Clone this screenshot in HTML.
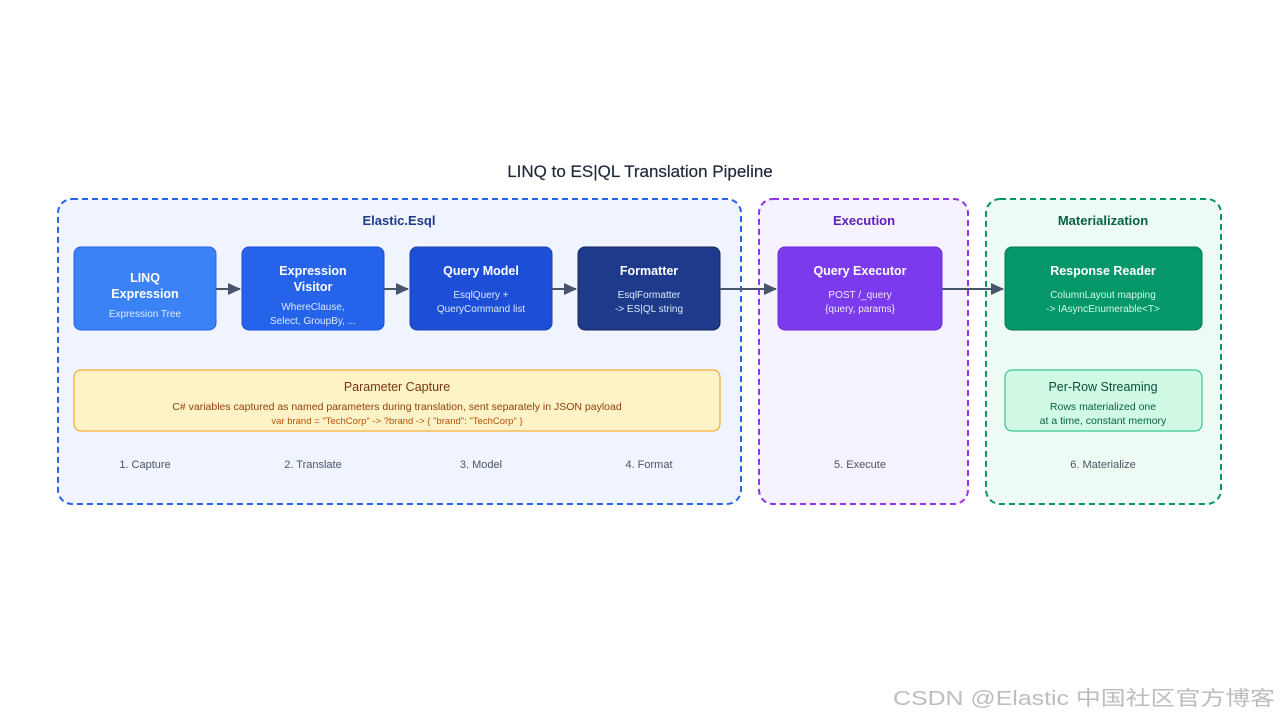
<!DOCTYPE html>
<html><head><meta charset="utf-8"><style>
html,body{margin:0;padding:0;background:#fff;width:1280px;height:720px;overflow:hidden}
svg{display:block}
text{font-family:"Liberation Sans","Noto Sans CJK SC",sans-serif}
</style></head><body>
<svg width="1280" height="720" viewBox="0 0 1280 720" xmlns="http://www.w3.org/2000/svg">
<defs>
<marker id="ah" markerWidth="14" markerHeight="14" refX="12" refY="6" orient="auto" markerUnits="userSpaceOnUse">
<path d="M0,0 L13,6 L0,12 z" fill="#475569"/></marker>
</defs>
<text x="640" y="177" text-anchor="middle" font-size="17" fill="#1f2937" stroke="#1f2937" stroke-width="0.2">LINQ to ES|QL Translation Pipeline</text>

<rect x="58" y="199" width="683" height="305" rx="14" fill="#eff4ff" stroke="#2563eb" stroke-width="2" stroke-dasharray="6,4"/>
<rect x="759" y="199" width="209" height="305" rx="14" fill="#f7f2ff" stroke="#9333ea" stroke-width="2" stroke-dasharray="6,4"/>
<rect x="986" y="199" width="235" height="305" rx="14" fill="#eefbf5" stroke="#059669" stroke-width="2" stroke-dasharray="6,4"/>

<text x="399" y="225" text-anchor="middle" font-size="13" font-weight="bold" fill="#1e3a8a">Elastic.Esql</text>
<text x="864" y="225" text-anchor="middle" font-size="13" font-weight="bold" fill="#5b21b6">Execution</text>
<text x="1103" y="225" text-anchor="middle" font-size="13" font-weight="bold" fill="#065f46">Materialization</text>

<rect x="74" y="247" width="142" height="83" rx="7" fill="#3b82f6" stroke="#2563eb"/>
<text x="145" y="282" text-anchor="middle" font-size="12.5" font-weight="bold" fill="#fff">LINQ</text>
<text x="145" y="298" text-anchor="middle" font-size="12.5" font-weight="bold" fill="#fff">Expression</text>
<text x="145" y="317" text-anchor="middle" font-size="10" fill="#dbeafe">Expression Tree</text>

<rect x="242" y="247" width="142" height="83" rx="7" fill="#2563eb" stroke="#1d4ed8"/>
<text x="313" y="275" text-anchor="middle" font-size="12.5" font-weight="bold" fill="#fff">Expression</text>
<text x="313" y="291" text-anchor="middle" font-size="12.5" font-weight="bold" fill="#fff">Visitor</text>
<text x="313" y="310" text-anchor="middle" font-size="10" fill="#dbeafe">WhereClause,</text>
<text x="313" y="324" text-anchor="middle" font-size="10" fill="#dbeafe">Select, GroupBy, ...</text>

<rect x="410" y="247" width="142" height="83" rx="7" fill="#1d4ed8" stroke="#1e40af"/>
<text x="481" y="275" text-anchor="middle" font-size="12.5" font-weight="bold" fill="#fff">Query Model</text>
<text x="481" y="298" text-anchor="middle" font-size="10" fill="#dbeafe">EsqlQuery +</text>
<text x="481" y="312" text-anchor="middle" font-size="10" fill="#dbeafe">QueryCommand list</text>

<rect x="578" y="247" width="142" height="83" rx="7" fill="#1e3a8a" stroke="#172554"/>
<text x="649" y="275" text-anchor="middle" font-size="12.5" font-weight="bold" fill="#fff">Formatter</text>
<text x="649" y="298" text-anchor="middle" font-size="10" fill="#dbeafe">EsqlFormatter</text>
<text x="649" y="312" text-anchor="middle" font-size="10" fill="#dbeafe">-&gt; ES|QL string</text>

<rect x="778" y="247" width="164" height="83" rx="7" fill="#7c3aed" stroke="#6d28d9"/>
<text x="860" y="275" text-anchor="middle" font-size="12.5" font-weight="bold" fill="#fff">Query Executor</text>
<text x="860" y="298" text-anchor="middle" font-size="10" fill="#ede9fe">POST /_query</text>
<text x="860" y="312" text-anchor="middle" font-size="10" fill="#ede9fe">{query, params}</text>

<rect x="1005" y="247" width="197" height="83" rx="7" fill="#059669" stroke="#047857"/>
<text x="1103" y="275" text-anchor="middle" font-size="12.5" font-weight="bold" fill="#fff">Response Reader</text>
<text x="1103" y="298" text-anchor="middle" font-size="10" fill="#d1fae5">ColumnLayout mapping</text>
<text x="1103" y="312" text-anchor="middle" font-size="10" fill="#d1fae5">-&gt; IAsyncEnumerable&lt;T&gt;</text>

<rect x="1005" y="370" width="197" height="61" rx="7" fill="#d1fae5" stroke="#10b981"/>
<text x="1103" y="391" text-anchor="middle" font-size="12.5" fill="#064e3b">Per-Row Streaming</text>
<text x="1103" y="410" text-anchor="middle" font-size="10.5" fill="#065f46">Rows materialized one</text>
<text x="1103" y="424" text-anchor="middle" font-size="10.5" fill="#065f46">at a time, constant memory</text>

<rect x="74" y="370" width="646" height="61" rx="7" fill="#fef3c7" stroke="#f59e0b"/>
<text x="397" y="391" text-anchor="middle" font-size="12.5" fill="#78350f">Parameter Capture</text>
<text x="397" y="410" text-anchor="middle" font-size="10.5" fill="#92400e">C# variables captured as named parameters during translation, sent separately in JSON payload</text>
<text x="397" y="424" text-anchor="middle" font-size="9.5" fill="#b45309">var brand = "TechCorp" -&gt; ?brand -&gt; { "brand": "TechCorp" }</text>

<g stroke="#475569" stroke-width="2" fill="none">
<line x1="216" y1="289" x2="240" y2="289" marker-end="url(#ah)"/>
<line x1="384" y1="289" x2="408" y2="289" marker-end="url(#ah)"/>
<line x1="552" y1="289" x2="576" y2="289" marker-end="url(#ah)"/>
<line x1="720" y1="289" x2="776" y2="289" marker-end="url(#ah)"/>
<line x1="942" y1="289" x2="1003" y2="289" marker-end="url(#ah)"/>
</g>

<g font-size="11" fill="#4b5563" text-anchor="middle">
<text x="145" y="468">1. Capture</text>
<text x="313" y="468">2. Translate</text>
<text x="481" y="468">3. Model</text>
<text x="649" y="468">4. Format</text>
<text x="860" y="468">5. Execute</text>
<text x="1103" y="468">6. Materialize</text>
</g>

<text x="893" y="705" font-size="20" fill="#bdbdbd" textLength="382" lengthAdjust="spacingAndGlyphs">CSDN @Elastic 中国社区官方博客</text>
</svg>
</body></html>
